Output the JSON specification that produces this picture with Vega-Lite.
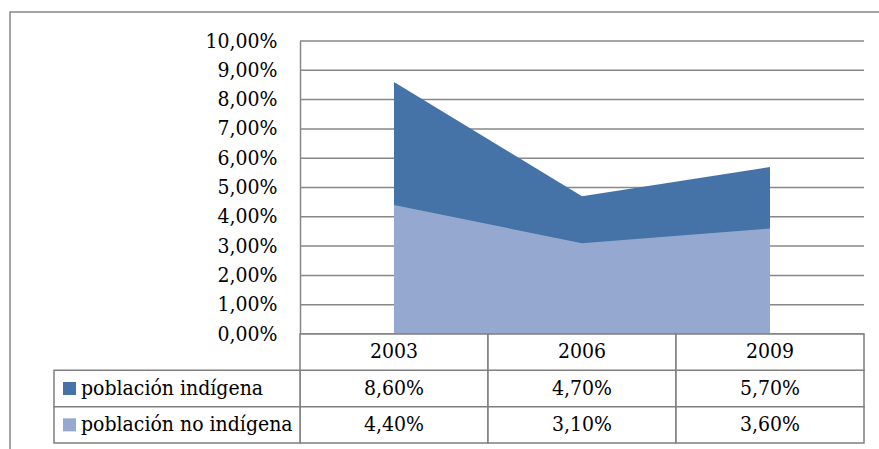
{
  "$schema": "https://vega.github.io/schema/vega-lite/v6.json",
  "width": 880,
  "height": 450,
  "autosize": {"type": "none"},
  "padding": {"left": 10, "top": 12, "right": 0, "bottom": 0},
  "background": "white",
  "config": {
    "view": {"stroke": "#878787", "strokeWidth": 1.5},
    "locale": {"number": {"decimal": ",", "thousands": ".", "grouping": [3], "currency": ["", " €"]}},
    "font": "DejaVu Serif Condensed",
    "text": {"font": "DejaVu Serif Condensed", "fontSize": 21, "color": "black"}
  },
  "datasets": {
    "series": [
      {"anio": 2003, "serie": "población indígena", "valor": 0.086},
      {"anio": 2006, "serie": "población indígena", "valor": 0.047},
      {"anio": 2009, "serie": "población indígena", "valor": 0.057},
      {"anio": 2003, "serie": "población no indígena", "valor": 0.044},
      {"anio": 2006, "serie": "población no indígena", "valor": 0.031},
      {"anio": 2009, "serie": "población no indígena", "valor": 0.036}
    ],
    "marcas": [
      {"v": 0}, {"v": 0.01}, {"v": 0.02}, {"v": 0.03}, {"v": 0.04}, {"v": 0.05},
      {"v": 0.06}, {"v": 0.07}, {"v": 0.08}, {"v": 0.09}, {"v": 0.1}
    ],
    "anios": [{"anio": 2003}, {"anio": 2006}, {"anio": 2009}],
    "leyenda": [{"serie": "población indígena"}, {"serie": "población no indígena"}]
  },
  "resolve": {"scale": {"x": "independent", "y": "independent", "color": "independent"}},
  "layer": [
    {
      "data": {"name": "marcas"},
      "mark": {"type": "rule", "color": "#878787", "strokeWidth": 1.5},
      "encoding": {
        "y": {
          "field": "v", "type": "quantitative",
          "scale": {"domain": [0, 0.1], "range": [322, 29], "nice": false, "zero": false},
          "axis": {
            "orient": "left", "offset": -290, "format": ".2%", "grid": false, "ticks": false, "tickSize": 0,
            "labelPadding": 23, "labelFont": "DejaVu Serif Condensed", "labelFontSize": 21, "labelColor": "black",
            "labelOverlap": false, "labelFlush": false, "labelBound": false,
            "domainColor": "#878787", "domainWidth": 1.5, "title": null,
            "values": [0, 0.01, 0.02, 0.03, 0.04, 0.05, 0.06, 0.07, 0.08, 0.09, 0.1]
          }
        },
        "x": {"datum": 0, "type": "quantitative", "scale": {"domain": [0, 3], "range": [290, 854], "nice": false, "zero": false}, "axis": null},
        "x2": {"datum": 3}
      }
    },
    {
      "data": {"name": "series"},
      "encoding": {
        "x": {"field": "anio", "type": "ordinal", "scale": {"type": "point", "domain": [2003, 2006, 2009], "range": [384, 760], "padding": 0}, "axis": null},
        "y": {"field": "valor", "type": "quantitative", "stack": null, "scale": {"domain": [0, 0.1], "range": [322, 29], "nice": false, "zero": false}, "axis": null}
      },
      "layer": [
        {"transform": [{"filter": "datum.serie === 'población indígena'"}], "mark": {"type": "area", "color": "#4573A7", "opacity": 1}},
        {"transform": [{"filter": "datum.serie === 'población no indígena'"}], "mark": {"type": "area", "color": "#95A9D0", "opacity": 1}}
      ]
    },
    {
      "layer": [
        {
          "data": {"name": "series"},
          "mark": {"type": "rect", "fill": "white", "stroke": "#7f7f7f", "strokeWidth": 1.5},
          "encoding": {
            "x": {"field": "anio", "type": "ordinal", "scale": {"type": "band", "domain": [2003, 2006, 2009], "range": [290, 854], "paddingInner": 0, "paddingOuter": 0}, "axis": null},
            "y": {"field": "serie", "type": "nominal", "scale": {"type": "band", "domain": ["año", "población indígena", "población no indígena"], "range": [322, 431], "paddingInner": 0, "paddingOuter": 0}, "axis": null}
          }
        },
        {
          "data": {"name": "series"},
          "mark": {"type": "text", "font": "DejaVu Serif Condensed", "fontSize": 21, "color": "black", "align": "center", "baseline": "middle"},
          "encoding": {
            "x": {"field": "anio", "type": "ordinal", "scale": {"type": "band", "domain": [2003, 2006, 2009], "range": [290, 854], "paddingInner": 0, "paddingOuter": 0}, "axis": null},
            "y": {"field": "serie", "type": "nominal", "scale": {"type": "band", "domain": ["año", "población indígena", "población no indígena"], "range": [322, 431], "paddingInner": 0, "paddingOuter": 0}, "axis": null},
            "text": {"field": "valor", "type": "quantitative", "format": ".2%"}
          }
        },
        {
          "data": {"name": "anios"},
          "mark": {"type": "rect", "fill": "white", "stroke": "#7f7f7f", "strokeWidth": 1.5},
          "encoding": {
            "x": {"field": "anio", "type": "ordinal", "scale": {"type": "band", "domain": [2003, 2006, 2009], "range": [290, 854], "paddingInner": 0, "paddingOuter": 0}, "axis": null},
            "y": {"datum": "año", "type": "nominal", "scale": {"type": "band", "domain": ["año", "población indígena", "población no indígena"], "range": [322, 431], "paddingInner": 0, "paddingOuter": 0}, "axis": null}
          }
        },
        {
          "data": {"name": "anios"},
          "mark": {"type": "text", "font": "DejaVu Serif Condensed", "fontSize": 21, "color": "black", "align": "center", "baseline": "middle"},
          "encoding": {
            "x": {"field": "anio", "type": "ordinal", "scale": {"type": "band", "domain": [2003, 2006, 2009], "range": [290, 854], "paddingInner": 0, "paddingOuter": 0}, "axis": null},
            "y": {"datum": "año", "type": "nominal", "scale": {"type": "band", "domain": ["año", "población indígena", "población no indígena"], "range": [322, 431], "paddingInner": 0, "paddingOuter": 0}, "axis": null},
            "text": {"field": "anio", "type": "nominal"}
          }
        }
      ]
    },
    {
      "data": {"name": "leyenda"},
      "encoding": {
        "y": {"field": "serie", "type": "nominal", "scale": {"type": "band", "domain": ["año", "población indígena", "población no indígena"], "range": [322, 431], "paddingInner": 0, "paddingOuter": 0}, "axis": null}
      },
      "layer": [
        {
          "mark": {"type": "rect", "fill": "white", "stroke": "#7f7f7f", "strokeWidth": 1.5},
          "encoding": {
            "x": {"datum": "etiqueta", "type": "nominal", "scale": {"type": "band", "domain": ["etiqueta"], "range": [44, 290], "paddingInner": 0, "paddingOuter": 0}, "axis": null}
          }
        },
        {
          "mark": {"type": "square", "size": 169, "filled": true, "opacity": 1},
          "encoding": {
            "x": {"datum": "etiqueta", "type": "nominal", "bandPosition": 0.063, "scale": {"type": "band", "domain": ["etiqueta"], "range": [44, 290], "paddingInner": 0, "paddingOuter": 0}, "axis": null},
            "color": {"field": "serie", "type": "nominal", "scale": {"domain": ["población indígena", "población no indígena"], "range": ["#4573A7", "#95A9D0"]}, "legend": null}
          }
        },
        {
          "mark": {"type": "text", "font": "DejaVu Serif Condensed", "fontSize": 21, "color": "black", "align": "left", "baseline": "middle"},
          "encoding": {
            "x": {"datum": "etiqueta", "type": "nominal", "bandPosition": 0.1098, "scale": {"type": "band", "domain": ["etiqueta"], "range": [44, 290], "paddingInner": 0, "paddingOuter": 0}, "axis": null},
            "text": {"field": "serie", "type": "nominal"}
          }
        }
      ]
    }
  ]
}
